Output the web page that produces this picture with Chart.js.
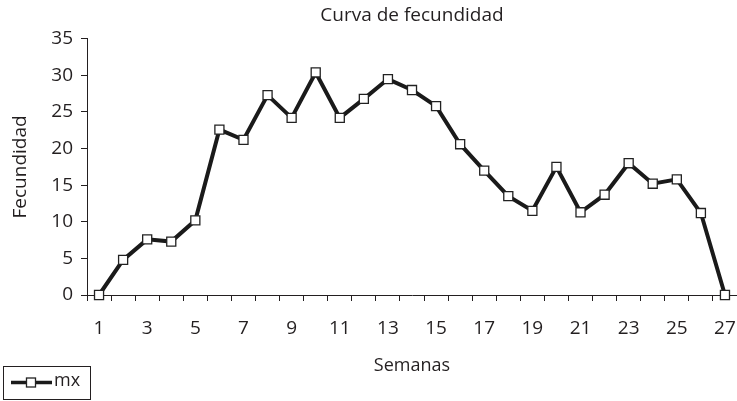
<!DOCTYPE html>
<html>
<head>
<meta charset="utf-8">
<script src="https://cdn.jsdelivr.net/npm/chart.js@4"></script>
<style>
  html, body { margin: 0; padding: 0; background: #fff; }
  #wrap { width: 737px; height: 401px; }
</style>
</head>
<body>
<div id="wrap"><canvas id="myChart"></canvas></div>
<script>
// 데이터
const semanas = ["1","2","3","4","5","6","7","8","9","10","11","12","13","14","15","16","17","18","19","20","21","22","23","24","25","26","27"];
const mx = [0, 4.8, 7.6, 7.3, 10.2, 22.6, 21.2, 27.3, 24.2, 30.4, 24.2, 26.8, 29.5, 28.0, 25.8, 20.6, 17.0, 13.5, 11.5, 17.5, 11.3, 13.7, 18.0, 15.2, 15.8, 11.2, 0];
const yTicks = [0, 5, 10, 15, 20, 25, 30, 35];

const FONT = "'Open Sans', 'Liberation Sans', sans-serif";
const INK = "#231f20";

// 범례 (테두리 있는 박스)
const boxLegend = {
	id: "boxLegend",
	afterDraw(chart) {
		const ctx = chart.ctx;
		const ds = chart.data.datasets[0];
		ctx.save();
		ctx.strokeStyle = INK;
		ctx.lineWidth = 1;
		ctx.strokeRect(3.5, 366.5, 87, 33);
		// line
		ctx.strokeStyle = "#1a1a1a";
		ctx.lineWidth = 3.5;
		ctx.beginPath();
		ctx.moveTo(11, 382.5);
		ctx.lineTo(52, 382.5);
		ctx.stroke();
		// marker
		ctx.fillStyle = "#fff";
		ctx.fillRect(26.5, 378, 9, 9);
		ctx.strokeStyle = "#222";
		ctx.lineWidth = 1.3;
		ctx.strokeRect(26.5, 378, 9, 9);
		// text
		ctx.fillStyle = INK;
		ctx.font = "18px " + FONT;
		ctx.textBaseline = "middle";
		ctx.fillText(ds.label, 54, 381);
		ctx.restore();
	}
};

var ctx = document.getElementById("myChart");

var config = {
	type: "line",
	data: {
		labels: semanas,
		datasets: [{
			label: "mx",
			data: mx,
			borderColor: "#1a1a1a",
			borderWidth: 4,
			tension: 0,
			clip: false,
			pointStyle: "rect",
			pointRadius: 6.4,
			pointHoverRadius: 6.4,
			pointBackgroundColor: "#fff",
			pointBorderColor: "#222",
			pointBorderWidth: 1.3
		}]
	},
	options: {
		responsive: false,
		animation: false,
		layout: { autoPadding: false, padding: { left: 0, right: -2, top: 0, bottom: 0 } },
		plugins: {
			legend: { display: false },
			tooltip: { enabled: false },
			title: {
				display: true,
				text: "Curva de fecundidad",
				fullSize: false,
				color: INK,
				font: { family: FONT, size: 19, weight: "normal" },
				padding: { top: 4, bottom: 12 }
			}
		},
		scales: {
			x: {
				offset: true,
				grid: {
					offset: true,
					drawOnChartArea: false,
					drawTicks: true,
					tickLength: 6,
					tickColor: INK,
					color: INK
				},
				border: { color: INK, width: 1 },
				ticks: {
					autoSkip: false,
					maxRotation: 0,
					padding: 16,
					color: INK,
					font: { family: FONT, size: 19 },
					callback: function(v, i) {
						return i % 2 === 0 ? semanas[i] : "";
					}
				},
				title: {
					display: true,
					text: "Semanas",
					color: INK,
					font: { family: FONT, size: 18 },
					padding: { top: 0, bottom: 24 }
				},
				afterFit: function(scale) {
					scale.height = 106;
					scale.paddingLeft = 0;
					scale.paddingRight = 0;
				}
			},
			y: {
				min: 0,
				max: 35,
				afterBuildTicks: function(scale) {
					scale.ticks = yTicks.map(v => ({ value: v }));
				},
				grid: {
					drawOnChartArea: false,
					tickLength: 6,
					tickColor: INK,
					color: INK
				},
				border: { color: INK, width: 1 },
				ticks: {
					padding: 8,
					color: INK,
					font: { family: FONT, size: 19 }
				},
				title: {
					display: true,
					text: "Fecundidad",
					color: INK,
					font: { family: FONT, size: 19 },
					padding: { top: 9, bottom: 6 }
				},
				afterFit: function(scale) { scale.width = 87; }
			}
		}
	},
	plugins: [boxLegend]
};

ctx.width = 737;
ctx.height = 401;
var myChart = new Chart(ctx, config);
</script>
</body>
</html>
